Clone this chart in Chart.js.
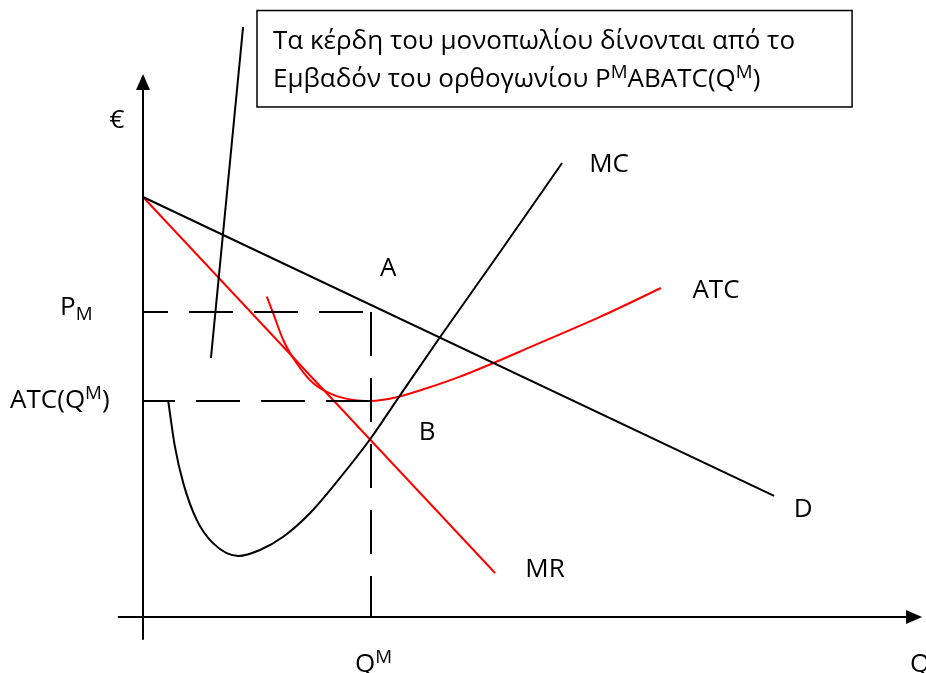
<!DOCTYPE html>
<html>
<head>
<meta charset="utf-8">
<script src="https://cdn.jsdelivr.net/npm/chart.js@4.4.0/dist/chart.umd.min.js"></script>
<style>
  html, body { margin: 0; padding: 0; background: #fff; }
  canvas { display: block; }
</style>
</head>
<body>
<canvas id="chart" width="926" height="673" style="width:926px;height:673px"></canvas>
<script>
// curves, in quantity / price units
const demand = [[0, 18.42], [27.68, 5.31]];
const mr = [[0, 18.42], [15.44, 1.93]];
const mc = [[1.11, 9.44], [1.40, 7.47], [1.77, 5.86], [2.36, 4.25], [3.08, 3.23], [4.18, 2.68],
            [5.13, 2.94], [6.15, 3.52], [7.32, 4.55], [8.64, 6.10], [10.0, 7.85], [11.05, 9.39],
            [12.94, 12.15], [15.66, 16.01], [18.38, 19.91]];
const atc = [[5.43, 14.05], [5.71, 13.32], [6.15, 12.15], [6.74, 11.13], [7.47, 10.25], [8.35, 9.74],
             [9.22, 9.52], [10.0, 9.47], [11.13, 9.64], [12.44, 10.03], [13.90, 10.54], [17.41, 12.02],
             [20.04, 13.16], [22.72, 14.43]];
const qM = 10;
const pM = 13.38;
const atcQM = 9.47;
const pointer = [[4.39, 25.88], [2.98, 11.36]];
const xAxisEnds = [-1.1, 34.17];
const yAxisEnds = [-1.0, 23.82];

// labels: [text, q, p]
const curveLabels = [
  ['€', -1.14, 21.45], ['MC', 20.44, 19.51], ['A', 10.75, 14.96], ['ATC', 25.13, 13.99],
  ['B', 12.46, 7.77], ['D', 28.95, 4.39], ['MR', 17.63, 1.75]
];
const richLabels = [
  [[['P'], ['M', 'sub']], -3.64, 13.25],
  [[['ATC(Q'], ['M', 'sup'], [')']], -5.83, 9.17],
  [[['Q'], ['M', 'sup']], 9.30, -2.41],
  [[['Q']], 33.64, -2.41]
];
const boxLines = [
  [[['Τα κέρδη του μονοπωλίου δίνονται από το']], 5.70, 24.91],
  [[['Εμβαδόν του ορθογωνίου P'], ['M', 'sup'], ['ABATC(Q'], ['M', 'sup'], [')']], 5.70, 23.25]
];
const box = { q0: 5.0, q1: 31.1, p0: 22.37, p1: 26.6 };

const unit = 22.8, ox = 143, oy = 617;
const toXY = arr => arr.map(([x, y]) => ({ x, y }));
const FONT = '"Open Sans", "Noto Sans", sans-serif';

function line(data, color, extra) {
  return Object.assign({
    data: toXY(data), showLine: true, borderColor: color, borderWidth: 2,
    pointRadius: 0, fill: false, tension: 0
  }, extra || {});
}

function rich(ctx, parts, x, y, size) {
  let cx = x;
  for (const [t, kind] of parts) {
    const s = kind ? size * 0.72 : size;
    ctx.font = s + 'px ' + FONT;
    const dy = kind === 'sup' ? -size * 0.33 : kind === 'sub' ? size * 0.18 : 0;
    ctx.fillText(t, cx, y + dy);
    cx += ctx.measureText(t).width;
  }
}

const annot = {
  id: 'annot',
  afterDatasetsDraw(chart) {
    const ctx = chart.ctx, sx = chart.scales.x, sy = chart.scales.y;
    const X = v => sx.getPixelForValue(v), Y = v => sy.getPixelForValue(v);
    ctx.save();
    ctx.fillStyle = '#000';
    // arrowheads
    ctx.beginPath();
    const tx = X(0), ty = Y(yAxisEnds[1]);
    ctx.moveTo(tx, ty); ctx.lineTo(tx - 7, ty + 16); ctx.lineTo(tx + 7, ty + 16); ctx.closePath();
    const rx = X(xAxisEnds[1]), ry = Y(0);
    ctx.moveTo(rx, ry); ctx.lineTo(rx - 16, ry - 7); ctx.lineTo(rx - 16, ry + 7); ctx.closePath();
    ctx.fill();
    // text box
    ctx.strokeStyle = '#000';
    ctx.lineWidth = 1.5;
    ctx.strokeRect(X(box.q0), Y(box.p1), X(box.q1) - X(box.q0), Y(box.p0) - Y(box.p1));
    ctx.textBaseline = 'alphabetic';
    ctx.textAlign = 'left';
    for (const [parts, q, p] of boxLines) rich(ctx, parts, X(q), Y(p), 26);
    for (const [parts, q, p] of richLabels) rich(ctx, parts, X(q), Y(p), 26);
    ctx.textAlign = 'center';
    ctx.font = '26px ' + FONT;
    for (const [t, q, p] of curveLabels) ctx.fillText(t, X(q), Y(p));
    ctx.restore();
  }
};

new Chart(document.getElementById('chart'), {
  type: 'scatter',
  data: {
    datasets: [
      line([[xAxisEnds[0], 0], [xAxisEnds[1] - 0.5, 0]], '#000'),
      line([[0, yAxisEnds[0]], [0, yAxisEnds[1] - 0.5]], '#000'),
      line([[0, pM], [qM, pM]], '#000', { borderDash: [44, 21], borderDashOffset: 19 }),
      line([[0, atcQM], [qM, atcQM]], '#000', { borderDash: [44, 21], borderDashOffset: 12 }),
      line([[qM, pM], [qM, 0]], '#000', { borderDash: [44, 22] }),
      line(pointer, '#000'),
      line(demand, '#000'),
      line(mc, '#000', { cubicInterpolationMode: 'monotone' }),
      line(mr, '#ff0000'),
      line(atc, '#ff0000', { cubicInterpolationMode: 'monotone' })
    ]
  },
  options: {
    responsive: false,
    animation: false,
    layout: { padding: 0 },
    plugins: { legend: { display: false }, tooltip: { enabled: false } },
    scales: {
      x: { type: 'linear', display: false, min: -ox / unit, max: (926 - ox) / unit },
      y: { type: 'linear', display: false, min: -(673 - oy) / unit, max: oy / unit }
    }
  },
  plugins: [annot]
});
</script>
</body>
</html>
